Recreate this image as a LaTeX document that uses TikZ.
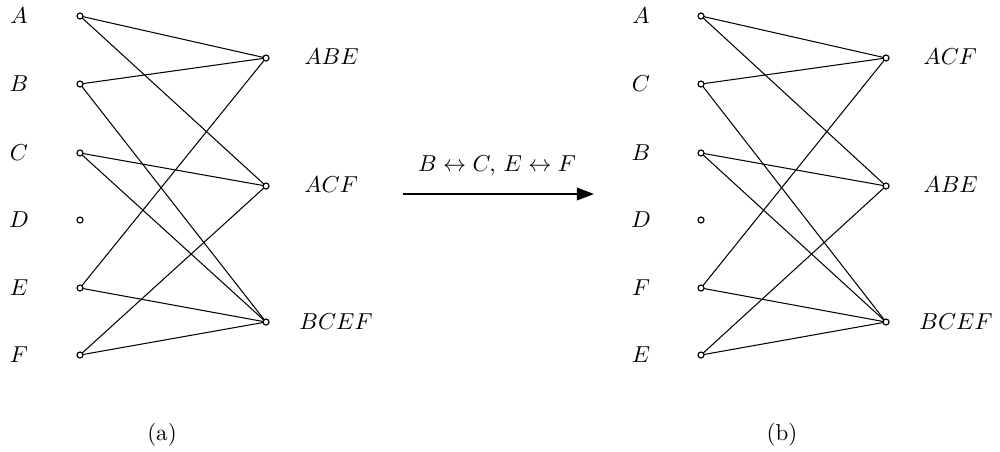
\documentclass[tikz,border=0pt]{standalone}
\usetikzlibrary{arrows.meta}
\begin{document}
\begin{tikzpicture}[x=0.434pt,y=-0.434pt,
  vtx/.style={circle,draw,inner sep=0pt,minimum size=2.6pt,line width=0.5pt,fill=white},
  edge/.style={line width=0.45pt},
  lab/.style={inner sep=0pt}]
\useasboundingbox (0,0) rectangle (1000,451);

% ---- graph (a) ----
\foreach \n/\y in {A/16,B/84,C/153,D/220,E/288,F/355}{
  \node[lab] (la\n) at (19,\y) {$\n$};
  \coordinate (a\n) at (80,\y);
}
\coordinate (aABE) at (266,58);
\coordinate (aACF) at (266,186);
\coordinate (aBCEF) at (266,322);
\node[lab,anchor=west] (laABE) at (304,57) {$ABE$};
\node[lab,anchor=west] (laACF) at (304,185) {$ACF$};
\node[lab,anchor=west] (laBCEF) at (299,322) {$BCEF$};
\foreach \u/\v in {A/ABE,A/ACF,B/ABE,B/BCEF,C/ACF,C/BCEF,E/ABE,E/BCEF,F/ACF,F/BCEF}
  \draw[edge] (a\u) -- (a\v);
\foreach \n in {A,B,C,D,E,F,ABE,ACF,BCEF}
  \node[vtx] at (a\n) {};
\node (capa) at (162,435) {(a)};

% ---- graph (b) ----
\foreach \n/\y in {A/16,C/84,B/153,D/220,F/288,E/355}{
  \node[lab] (lb\n) at (641,\y) {$\n$};
  \coordinate (b\n) at (701,\y);
}
\coordinate (bACF) at (886,58);
\coordinate (bABE) at (886,186);
\coordinate (bBCEF) at (886,322);
\node[lab,anchor=west] (lbACF) at (923,57) {$ACF$};
\node[lab,anchor=west] (lbABE) at (923,185) {$ABE$};
\node[lab,anchor=west] (lbBCEF) at (919,322) {$BCEF$};
\foreach \u/\v in {A/ACF,A/ABE,C/ACF,C/BCEF,B/ABE,B/BCEF,F/ACF,F/BCEF,E/ABE,E/BCEF}
  \draw[edge] (b\u) -- (b\v);
\foreach \n in {A,B,C,D,E,F,ABE,ACF,BCEF}
  \node[vtx] at (b\n) {};
\node (capb) at (782,435) {(b)};

% ---- relabelling arrow ----
\coordinate (ars) at (403,194);
\coordinate (are) at (594,194);
\draw[line width=0.9pt,-{Triangle[length=7.4pt,width=5.4pt]}] (ars) -- (are);
\node (swap) at (497,166) {$B\leftrightarrow C,\, E\leftrightarrow F$};
\end{tikzpicture}
\end{document}
